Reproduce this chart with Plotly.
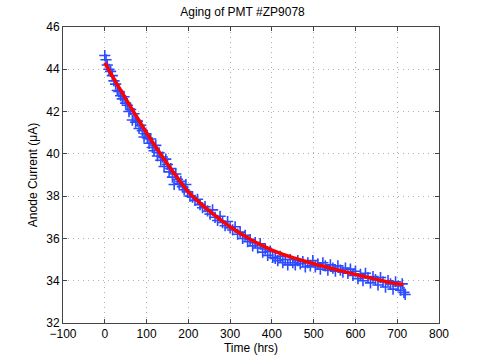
import plotly.graph_objects as go

hours = [0, 3, 6, 10, 14, 18, 22, 26, 30, 34, 38, 42, 46, 50, 54, 58, 62, 66, 70, 74,
         78, 82, 86, 90, 94, 98, 102, 106, 110, 114, 118, 122, 126, 130, 134, 138, 142,
         146, 150, 154, 158, 162, 166, 170, 174, 178, 182, 186, 190, 194, 198, 204, 210,
         216, 222, 228, 234, 240, 246, 252, 258, 264, 270, 276, 282, 288, 294, 300, 306,
         312, 318, 324, 330, 336, 342, 348, 354, 360, 366, 372, 378, 384, 390, 396, 402,
         408, 414, 420, 426, 432, 438, 444, 450, 456, 462, 468, 474, 480, 486, 492, 498,
         504, 510, 516, 522, 528, 534, 540, 546, 552, 558, 564, 570, 576, 582, 588, 594,
         600, 606, 612, 618, 624, 630, 636, 642, 648, 654, 660, 666, 672, 678, 684, 690,
         696, 702, 708, 712, 716, 719]
current = [44.65, 44.45, 44.2, 44.0, 43.9, 43.7, 43.45, 43.3, 43.0, 42.95, 42.75, 42.6,
           42.7, 42.4, 42.3, 42.0, 42.1, 41.6, 41.9, 41.5, 41.55, 41.2, 41.35, 41.1, 40.8,
           40.95, 40.75, 40.5, 40.7, 40.3, 40.15, 40.4, 39.9, 40.05, 39.7, 39.85, 39.4,
           39.75, 39.5, 39.15, 39.3, 38.9, 38.55, 39.05, 38.8, 38.6, 38.7, 38.45, 38.3,
           38.55, 38.2, 38.0, 37.95, 37.8, 37.85, 37.6, 37.45, 37.5, 37.3, 37.15, 37.35,
           37.0, 36.85, 37.05, 36.75, 36.6, 36.8, 36.5, 36.4, 36.55, 36.2, 36.3, 36.0,
           36.15, 35.85, 35.95, 35.65, 35.8, 35.55, 35.75, 35.35, 35.5, 35.2, 35.4, 35.1,
           35.05, 34.95, 35.15, 34.85, 35.0, 34.75, 35.0, 34.85, 34.75, 34.95, 34.8, 34.9,
           34.65, 34.85, 34.7, 34.95, 34.65, 34.8, 34.55, 34.85, 34.7, 34.5, 34.75, 34.6,
           34.45, 34.7, 34.5, 34.4, 34.6, 34.35, 34.55, 34.25, 34.45, 34.1, 34.3, 34.0,
           34.35, 34.15, 33.9, 34.2, 34.05, 33.8, 34.15, 33.95, 33.7, 34.0, 33.85, 33.6,
           33.95, 33.75, 33.55, 33.85, 33.45, 33.35]

# Fitted curve
fit_hours = [0, 25, 50, 75, 100, 125, 150, 175, 200, 225, 250, 275, 300, 325, 350, 375,
             400, 425, 450, 475, 500, 525, 550, 575, 600, 625, 650, 675, 700, 715]
fit_current = [44.3, 43.44, 42.61, 41.8, 41.0, 40.24, 39.52, 38.84, 38.2, 37.73, 37.3,
               36.91, 36.55, 36.23, 35.94, 35.68, 35.45, 35.26, 35.095, 34.945, 34.8,
               34.67, 34.545, 34.42, 34.3, 34.18, 34.065, 33.955, 33.85, 33.82]

fig = go.Figure()
fig.add_trace(go.Scatter(x=hours, y=current, mode='markers',
                         marker=dict(symbol='cross-thin-open', size=8, color='#2a4bff',
                                     line=dict(color='#2a4bff', width=1.6)),
                         showlegend=False))
fig.add_trace(go.Scatter(x=fit_hours, y=fit_current, mode='lines',
                         line=dict(color='#ff0000', width=3.5, shape='spline'),
                         showlegend=False))

axis_style = dict(showline=True, mirror='ticks', linecolor='#444', linewidth=1,
                  ticks='inside', ticklen=4, tickcolor='#444', automargin=False,
                  showgrid=True, gridcolor='#b0b0b0', griddash='1px,4px', gridwidth=1,
                  zeroline=False, tickfont=dict(size=12, color='#000'))

fig.update_layout(
    width=485, height=364,
    paper_bgcolor='white', plot_bgcolor='white',
    margin=dict(l=63, r=46, t=27, b=41),
    font=dict(family='Liberation Sans, Arial, sans-serif', size=12, color='#000'),
    title=dict(text='Aging of PMT #ZP9078', x=0.5, xanchor='center',
               y=0.967, yanchor='middle', font=dict(size=12)),
    xaxis=dict(range=[-100, 800], dtick=100, tick0=-100,
               title=dict(text='Time (hrs)', standoff=2, font=dict(size=12)), **axis_style),
    yaxis=dict(range=[32, 46], dtick=2, tick0=32,
               title=dict(text='Anode Current (μA)', standoff=6, font=dict(size=12)), **axis_style),
)

# drop the browser's default page margin so the figure sits at the top-left corner
fig.write_html("out.html", config={'displayModeBar': False},
               post_script="document.body.style.margin='0';")
